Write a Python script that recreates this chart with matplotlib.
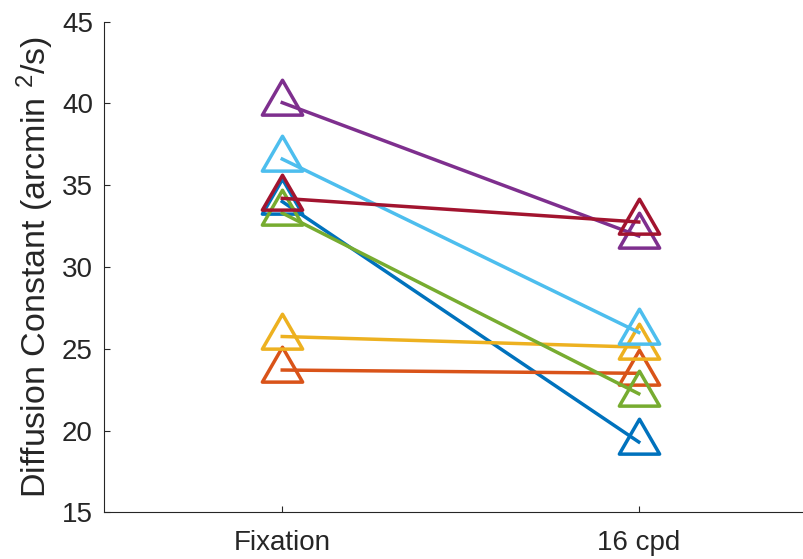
import matplotlib
matplotlib.use("Agg")
import matplotlib.pyplot as plt
from matplotlib.path import Path
from matplotlib.markers import MarkerStyle
import numpy as np

plt.rcParams['font.family'] = ['Liberation Sans', 'DejaVu Sans']
plt.rcParams['mathtext.fontset'] = 'custom'
plt.rcParams['mathtext.rm'] = 'Liberation Sans'
plt.rcParams['mathtext.it'] = 'Liberation Sans:italic'

conditions = ["Fixation", "16 cpd"]
fixation = [34.0, 23.7, 25.75, 40.05, 33.3, 36.6, 34.2]
cpd16 = [19.3, 23.5, 25.1, 31.9, 22.25, 26.0, 32.75]
colors = ["#0072BD", "#D95319", "#EDB120", "#7E2F8E", "#77AC30", "#4DBEEE", "#A2142F"]
yticks = [15, 20, 25, 30, 35, 40, 45]

tri = Path([(0, 1), (-0.8660254, -0.5), (0.8660254, -0.5), (0, 1)],
           [Path.MOVETO, Path.LINETO, Path.LINETO, Path.CLOSEPOLY])
marker = MarkerStyle(tri, joinstyle='miter')

fig = plt.figure(figsize=(8.04, 5.59), dpi=100)
ax = fig.add_axes([104/804, (559-512.3)/559, 713/804, 490.6/559])
x = np.arange(1, len(conditions) + 1)
for a, b, c in zip(fixation, cpd16, colors):
    ax.plot(x, [a, b], '-', color=c, lw=2.5, marker=marker, markersize=33.5,
            markerfacecolor='none', markeredgecolor=c, markeredgewidth=2.5,
            clip_on=False)

ax.set_xlim(0.5, 2.5)
ax.set_ylim(15, 45)
ax.set_xticks(x)
ax.set_xticklabels(conditions)
ax.set_yticks(yticks)
for s in ['top', 'right']:
    ax.spines[s].set_visible(False)
for s in ['left', 'bottom']:
    ax.spines[s].set_color('#262626')
    ax.spines[s].set_linewidth(0.8)
ax.tick_params(direction='in', length=4.5, width=0.8, color='#262626',
               labelcolor='#262626', labelsize=20)
ax.tick_params(axis='y', pad=8)
ax.tick_params(axis='x', pad=13)
ax.set_ylabel(r"Diffusion Constant (arcmin $^{\mathrm{2}}$/s)", fontsize=24.5,
              color='#262626', labelpad=4)
fig.savefig("out.png", dpi=100)
